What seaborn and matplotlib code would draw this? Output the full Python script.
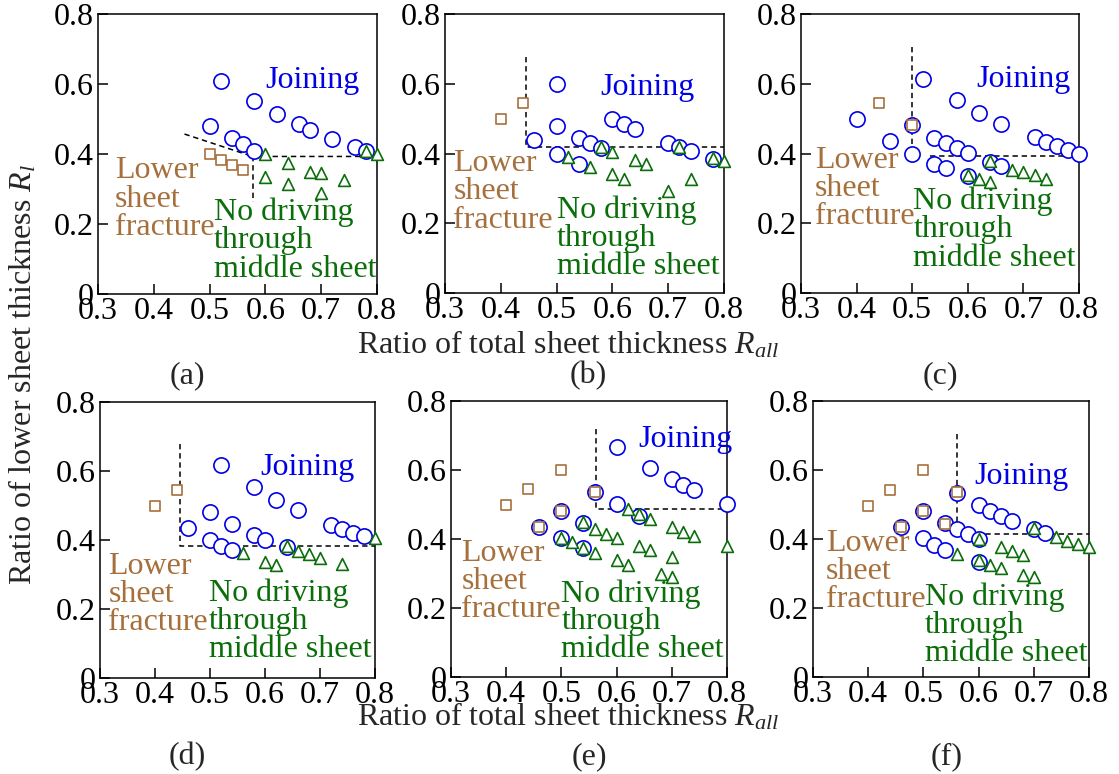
import matplotlib
matplotlib.use('Agg')
import matplotlib.pyplot as plt
import seaborn as sns

# ---- data (x = R_all, y = R_l) ----
x_ticks = [0.3, 0.4, 0.5, 0.6, 0.7, 0.8]
x_tick_labels = ['0.3', '0.4', '0.5', '0.6', '0.7', '0.8']
y_ticks = [0, 0.2, 0.4, 0.6, 0.8]
y_tick_labels = ['0', '0.2', '0.4', '0.6', '0.8']
panel_names = ['(a)', '(b)', '(c)', '(d)', '(e)', '(f)']

# (a)
a_join_x = [0.50, 0.52, 0.54, 0.56, 0.58, 0.58, 0.62, 0.66, 0.68, 0.72, 0.76, 0.78]
a_join_y = [0.48, 0.61, 0.445, 0.43, 0.41, 0.55, 0.515, 0.485, 0.47, 0.443, 0.42, 0.41]
a_nodrive_x = [0.60, 0.60, 0.64, 0.64, 0.68, 0.70, 0.70, 0.74, 0.78, 0.80]
a_nodrive_y = [0.40, 0.335, 0.375, 0.315, 0.35, 0.345, 0.29, 0.325, 0.41, 0.40]
a_fracture_x = [0.50, 0.52, 0.54, 0.56]
a_fracture_y = [0.40, 0.383, 0.37, 0.355]
a_bound = [([0.455, 0.577, 0.80], [0.457, 0.393, 0.393]), ([0.577, 0.577], [0.393, 0.262])]

# (b)
b_join_x = [0.46, 0.50, 0.50, 0.50, 0.54, 0.54, 0.56, 0.58, 0.60, 0.62, 0.64, 0.70, 0.72, 0.74, 0.78]
b_join_y = [0.44, 0.60, 0.48, 0.40, 0.445, 0.37, 0.43, 0.417, 0.50, 0.485, 0.47, 0.43, 0.419, 0.408, 0.385]
b_nodrive_x = [0.52, 0.56, 0.58, 0.60, 0.60, 0.62, 0.64, 0.66, 0.70, 0.72, 0.74, 0.78, 0.80]
b_nodrive_y = [0.39, 0.362, 0.42, 0.405, 0.34, 0.327, 0.38, 0.371, 0.293, 0.42, 0.327, 0.388, 0.379]
b_fracture_x = [0.40, 0.44]
b_fracture_y = [0.50, 0.545]
b_bound = [([0.445, 0.445, 0.80], [0.676, 0.419, 0.419])]

# (c)
c_join_x = [0.40, 0.46, 0.50, 0.50, 0.52, 0.54, 0.56, 0.58, 0.60, 0.54, 0.56, 0.58, 0.62, 0.66,
            0.60, 0.64, 0.66, 0.72, 0.74, 0.76, 0.78, 0.80]
c_join_y = [0.50, 0.435, 0.40, 0.483, 0.615, 0.445, 0.429, 0.416, 0.402, 0.371, 0.357, 0.552, 0.516, 0.486,
            0.336, 0.376, 0.365, 0.446, 0.433, 0.422, 0.41, 0.40]
c_nodrive_x = [0.60, 0.62, 0.64, 0.64, 0.68, 0.70, 0.72, 0.74]
c_nodrive_y = [0.338, 0.327, 0.317, 0.378, 0.354, 0.346, 0.338, 0.327]
c_fracture_x = [0.44, 0.50]
c_fracture_y = [0.546, 0.481]
c_bound = [([0.50, 0.50], [0.705, 0.40]), ([0.532, 0.80], [0.393, 0.393])]

# (d)
d_join_x = [0.46, 0.50, 0.50, 0.52, 0.52, 0.54, 0.54, 0.58, 0.58, 0.60, 0.62, 0.64, 0.66, 0.72, 0.74, 0.76, 0.78]
d_join_y = [0.435, 0.481, 0.399, 0.616, 0.382, 0.447, 0.37, 0.553, 0.415, 0.401, 0.515, 0.38, 0.486,
            0.444, 0.432, 0.42, 0.411]
d_nodrive_x = [0.56, 0.60, 0.62, 0.64, 0.66, 0.68, 0.70, 0.74, 0.80]
d_nodrive_y = [0.362, 0.335, 0.327, 0.382, 0.369, 0.358, 0.349, 0.33, 0.406]
d_fracture_x = [0.40, 0.44]
d_fracture_y = [0.50, 0.546]
d_bound = [([0.445, 0.445, 0.80], [0.679, 0.384, 0.384])]

# (e)
e_join_x = [0.46, 0.50, 0.50, 0.54, 0.54, 0.56, 0.60, 0.60, 0.64, 0.66, 0.70, 0.72, 0.74, 0.80]
e_join_y = [0.434, 0.48, 0.403, 0.446, 0.373, 0.537, 0.667, 0.501, 0.468, 0.605, 0.574, 0.557, 0.542, 0.501]
e_nodrive_x = [0.50, 0.52, 0.54, 0.54, 0.56, 0.56, 0.58, 0.60, 0.60, 0.62, 0.62, 0.64, 0.66, 0.64, 0.66,
               0.68, 0.70, 0.72, 0.74, 0.70, 0.70, 0.80]
e_nodrive_y = [0.403, 0.39, 0.448, 0.373, 0.429, 0.36, 0.415, 0.403, 0.338, 0.326, 0.487, 0.473, 0.458, 0.381,
               0.369, 0.299, 0.436, 0.421, 0.408, 0.349, 0.291, 0.379]
e_fracture_x = [0.40, 0.44, 0.50, 0.46, 0.50, 0.56]
e_fracture_y = [0.50, 0.545, 0.60, 0.434, 0.48, 0.535]
e_bound = [([0.563, 0.563, 0.80], [0.718, 0.487, 0.487])]

# (f)
f_join_x = [0.46, 0.50, 0.50, 0.52, 0.54, 0.54, 0.56, 0.56, 0.58, 0.60, 0.60, 0.60, 0.62, 0.64, 0.66, 0.70, 0.72]
f_join_y = [0.434, 0.48, 0.403, 0.383, 0.368, 0.446, 0.532, 0.429, 0.415, 0.40, 0.333, 0.499, 0.482, 0.468,
            0.453, 0.429, 0.418]
f_nodrive_x = [0.56, 0.60, 0.60, 0.62, 0.64, 0.64, 0.66, 0.68, 0.68, 0.70, 0.70, 0.74, 0.76, 0.78, 0.80]
f_nodrive_y = [0.357, 0.40, 0.338, 0.325, 0.315, 0.378, 0.366, 0.355, 0.297, 0.289, 0.432, 0.405, 0.395,
               0.386, 0.376]
f_fracture_x = [0.40, 0.44, 0.50, 0.46, 0.50, 0.54, 0.56]
f_fracture_y = [0.497, 0.543, 0.60, 0.434, 0.48, 0.444, 0.535]
f_bound = [([0.56, 0.56, 0.80], [0.704, 0.415, 0.415])]

joining_label = 'Joining'
fracture_label = ['Lower', 'sheet', 'fracture']
nodrive_label = ['No driving', 'through', 'middle sheet']
x_label = 'Ratio of total sheet thickness $R_{all}$'
y_label = 'Ratio of lower sheet thickness $R_{l}$'

# ---- style ----
sns.set_style('ticks')
plt.rcParams['font.family'] = ['Liberation Serif', 'DejaVu Serif']
plt.rcParams['mathtext.fontset'] = 'custom'
plt.rcParams['mathtext.rm'] = 'Liberation Serif'
plt.rcParams['mathtext.it'] = 'Liberation Serif:italic'

BLUE = '#0000e6'
GREEN = '#0b6e0b'
BROWN = '#a6703c'
FS = 23

W, H = 1119, 774
fig = plt.figure(figsize=(W / 100, H / 100), dpi=100)

# axes boxes in pixels: left, top, right, bottom
boxes = [(98, 14, 377, 294), (445, 14, 724, 293), (801, 14, 1079, 293),
         (100, 402, 375, 678), (451, 401, 727, 677), (813, 401, 1089, 677)]

panels = [
    (a_join_x, a_join_y, a_nodrive_x, a_nodrive_y, a_fracture_x, a_fracture_y, a_bound),
    (b_join_x, b_join_y, b_nodrive_x, b_nodrive_y, b_fracture_x, b_fracture_y, b_bound),
    (c_join_x, c_join_y, c_nodrive_x, c_nodrive_y, c_fracture_x, c_fracture_y, c_bound),
    (d_join_x, d_join_y, d_nodrive_x, d_nodrive_y, d_fracture_x, d_fracture_y, d_bound),
    (e_join_x, e_join_y, e_nodrive_x, e_nodrive_y, e_fracture_x, e_fracture_y, e_bound),
    (f_join_x, f_join_y, f_nodrive_x, f_nodrive_y, f_fracture_x, f_fracture_y, f_bound),
]

# text anchors in data units: joining (x, y), fracture (x, first line y), no driving (x, first line y)
text_pos = [
    ((0.599, 0.61), (0.330, 0.352), (0.507, 0.233)),
    ((0.578, 0.589), (0.315, 0.371), (0.500, 0.238)),
    ((0.616, 0.612), (0.325, 0.381), (0.502, 0.262)),
    ((0.591, 0.61), (0.315, 0.324), (0.498, 0.246)),
    ((0.640, 0.687), (0.319, 0.357), (0.500, 0.241)),
    ((0.593, 0.58), (0.323, 0.386), (0.502, 0.231)),
]
letter_pos = [(187, 376), (588, 376), (940, 376), (187, 757), (589, 757), (947, 757)]
step = 0.081

for i, (jx, jy, nx, ny, fx, fy, bound) in enumerate(panels):
    l, t, r, b = boxes[i]
    ax = fig.add_axes([l / W, 1 - b / H, (r - l) / W, (b - t) / H])

    # boundaries between regimes
    for bx, by in bound:
        ax.plot(bx, by, color='black', linestyle='--', dashes=(3.5, 2.5), linewidth=1.1, zorder=2)

    sns.scatterplot(x=jx, y=jy, ax=ax, marker='o', s=120, color='white', edgecolor=BLUE,
                    linewidth=1.2, zorder=3, clip_on=False)
    sns.scatterplot(x=nx, y=ny, ax=ax, marker='^', s=72, color='white', edgecolor=GREEN,
                    linewidth=1.2, zorder=4, clip_on=False)
    sns.scatterplot(x=fx, y=fy, ax=ax, marker='s', s=62, color='white', edgecolor=BROWN,
                    linewidth=1.2, zorder=5, clip_on=False)

    ax.set_xlim(0.3, 0.8)
    ax.set_ylim(0, 0.8)
    ax.set_xticks(x_ticks)
    ax.set_xticklabels(x_tick_labels)
    ax.set_yticks(y_ticks)
    ax.set_yticklabels(y_tick_labels)
    ax.tick_params(axis='both', direction='in', length=7, width=1.1, labelsize=FS,
                   top=False, right=False, colors='black')
    ax.tick_params(axis='x', pad=2)
    ax.tick_params(axis='y', pad=3)
    for sp in ax.spines.values():
        sp.set_linewidth(1.1)
        sp.set_color('black')
        sp.set_visible(True)
    ax.set_xlabel('')
    ax.set_ylabel('')

    (jtx, jty), (ftx, fty), (ntx, nty) = text_pos[i]
    ax.text(jtx, jty, joining_label, color=BLUE, fontsize=FS, ha='left', va='center')
    for k, line in enumerate(fracture_label):
        ax.text(ftx, fty - k * step, line, color=BROWN, fontsize=FS, ha='left', va='center')
    for k, line in enumerate(nodrive_label):
        ax.text(ntx, nty - k * step, line, color=GREEN, fontsize=FS, ha='left', va='center')

    lx, ly = letter_pos[i]
    fig.text(lx / W, 1 - ly / H, panel_names[i], fontsize=FS, ha='center', va='center')

fig.text(568 / W, 1 - 353 / H, x_label, fontsize=FS, ha='center', va='baseline')
fig.text(568 / W, 1 - 725 / H, x_label, fontsize=FS, ha='center', va='baseline')
fig.text(23 / W, 1 - 375 / H, y_label, fontsize=FS, rotation=90, ha='center', va='center')

fig.savefig('out.png', dpi=100)
